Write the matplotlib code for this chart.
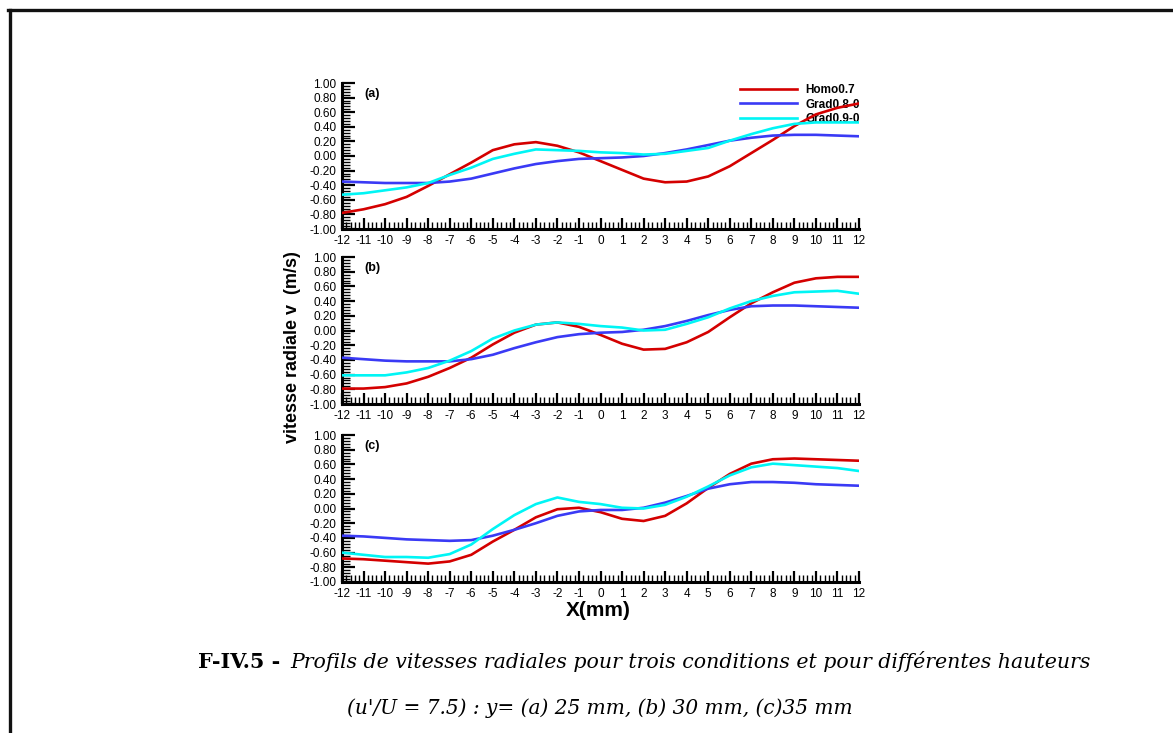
import matplotlib
matplotlib.use("Agg")
from matplotlib import pyplot as plt
from matplotlib.lines import Line2D
from matplotlib.ticker import MultipleLocator, FuncFormatter
import numpy as np

# x positions (mm)
x_mm = list(range(-12, 13))

# panel (a) y = 25 mm
homo_a = [-0.78, -0.73, -0.66, -0.56, -0.41, -0.25, -0.09, 0.08, 0.16, 0.19, 0.14, 0.05, -0.07,
          -0.19, -0.31, -0.36, -0.35, -0.28, -0.14, 0.04, 0.22, 0.41, 0.57, 0.66, 0.72]
grad8_a = [-0.35, -0.36, -0.37, -0.37, -0.37, -0.35, -0.31, -0.24, -0.17, -0.11, -0.07, -0.04, -0.03,
           -0.02, 0.00, 0.04, 0.09, 0.15, 0.21, 0.25, 0.28, 0.29, 0.29, 0.28, 0.27]
grad9_a = [-0.53, -0.51, -0.47, -0.43, -0.37, -0.26, -0.16, -0.04, 0.03, 0.09, 0.08, 0.07, 0.05,
           0.04, 0.02, 0.03, 0.07, 0.11, 0.21, 0.30, 0.38, 0.44, 0.46, 0.46, 0.46]

# panel (b) y = 30 mm
homo_b = [-0.79, -0.79, -0.77, -0.72, -0.63, -0.51, -0.37, -0.19, -0.03, 0.08, 0.11, 0.05, -0.06,
          -0.18, -0.26, -0.25, -0.16, -0.02, 0.18, 0.37, 0.52, 0.65, 0.71, 0.73, 0.73]
grad8_b = [-0.37, -0.39, -0.41, -0.42, -0.42, -0.42, -0.39, -0.33, -0.24, -0.16, -0.09, -0.05, -0.03,
           -0.02, 0.01, 0.06, 0.13, 0.21, 0.28, 0.33, 0.34, 0.34, 0.33, 0.32, 0.31]
grad9_b = [-0.61, -0.61, -0.61, -0.57, -0.51, -0.41, -0.28, -0.11, 0.00, 0.08, 0.11, 0.09, 0.06,
           0.04, 0.00, 0.01, 0.09, 0.18, 0.30, 0.40, 0.47, 0.52, 0.53, 0.54, 0.50]

# panel (c) y = 35 mm
homo_c = [-0.68, -0.69, -0.71, -0.73, -0.75, -0.72, -0.63, -0.45, -0.29, -0.12, -0.01, 0.01, -0.05,
          -0.14, -0.17, -0.10, 0.07, 0.28, 0.47, 0.61, 0.67, 0.68, 0.67, 0.66, 0.65]
grad8_c = [-0.37, -0.38, -0.40, -0.42, -0.43, -0.44, -0.43, -0.37, -0.29, -0.20, -0.10, -0.04, -0.02,
           -0.02, 0.01, 0.08, 0.17, 0.27, 0.33, 0.36, 0.36, 0.35, 0.33, 0.32, 0.31]
grad9_c = [-0.60, -0.63, -0.66, -0.66, -0.67, -0.62, -0.49, -0.28, -0.09, 0.06, 0.15, 0.09, 0.06,
           0.01, 0.00, 0.05, 0.16, 0.30, 0.45, 0.56, 0.61, 0.59, 0.57, 0.55, 0.51]

series_names = ["Homo0.7", "Grad0.8-0", "Grad0.9-0"]
series_colors = ["#d40000", "#3a3af5", "#00f5f5"]
panel_tags = ["(a)", "(b)", "(c)"]
panels = [
    (homo_a, grad8_a, grad9_a),
    (homo_b, grad8_b, grad9_b),
    (homo_c, grad8_c, grad9_c),
]

y_ticks = np.round(np.arange(-1.0, 1.001, 0.2), 2)

plt.rcParams["font.family"] = ["Liberation Sans", "DejaVu Sans"]
plt.rcParams["axes.unicode_minus"] = False

fig = plt.figure(figsize=(11.73, 7.33), dpi=100)

W, H = 1173.0, 733.0
left, right = 342 / W, 859 / W
tops = [83, 257, 435]
bottoms = [229, 404, 582]

for i, curves in enumerate(panels):
    ax = fig.add_axes([left, 1 - bottoms[i] / H, right - left, (bottoms[i] - tops[i]) / H])
    for vals, name, col in zip(curves, series_names, series_colors):
        ax.plot(x_mm, vals, color=col, lw=1.9, label=name, zorder=3)
    ax.set_xlim(-12, 12)
    ax.set_ylim(-1, 1)
    for s in ["top", "right"]:
        ax.spines[s].set_visible(False)
    for s in ["left", "bottom"]:
        ax.spines[s].set_linewidth(2.2)
    ax.xaxis.set_major_locator(MultipleLocator(1))
    ax.xaxis.set_minor_locator(MultipleLocator(0.2))
    ax.set_yticks(y_ticks)
    ax.yaxis.set_minor_locator(MultipleLocator(0.04))
    ax.yaxis.set_major_formatter(FuncFormatter(lambda v, p: f"{round(v, 2) + 0.0:.2f}"))
    ax.tick_params(which="major", direction="in", length=8, width=1.6, labelsize=8.5, pad=4)
    ax.tick_params(which="minor", direction="in", length=5, width=1.0)
    ax.tick_params(axis="y", which="major", length=9)
    ax.tick_params(axis="y", which="minor", length=6)
    ax.text(0.043, 0.925, panel_tags[i], transform=ax.transAxes, fontsize=9,
            fontweight="bold", va="center", ha="left")
    if i == 0:
        ax.legend(loc="upper left", bbox_to_anchor=(0.77, 0.993), frameon=False,
                  prop={"weight": "bold", "size": 8.5}, handlelength=4.8,
                  handletextpad=0.7, labelspacing=0.22, borderpad=0, borderaxespad=0)
        ax.get_legend().set_zorder(1)

fig.text(0.249, 0.527, "vitesse radiale v  (m/s)", rotation=90, fontsize=13,
         fontweight="bold", ha="center", va="center")
fig.text(598 / W, 1 - 611 / H, "X(mm)", fontsize=15, fontweight="bold",
         ha="center", va="center")

# caption, each piece sized to the width it takes in the page
serif = ["DejaVu Serif"]
cap_bold = fig.text(198 / W, 1 - 662 / H, "F-IV.5 -", family=serif, fontweight="bold",
                    fontsize=14, ha="left", va="center")
cap_1 = fig.text(290 / W, 1 - 662 / H,
                 "Profils de vitesses radiales pour trois conditions et pour différentes hauteurs",
                 family=serif, style="italic", fontsize=14, ha="left", va="center")
cap_2 = fig.text(600 / W, 1 - 708 / H, "(u'/U = 7.5) : y= (a) 25 mm, (b) 30 mm, (c)35 mm",
                 family=serif, style="italic", fontsize=14, ha="center", va="center")
fig.canvas.draw()
renderer = fig.canvas.get_renderer()
for t, target in [(cap_bold, 82), (cap_1, 805), (cap_2, 510)]:
    w = t.get_window_extent(renderer).width
    t.set_fontsize(t.get_fontsize() * target / w)

# page frame
fig.add_artist(Line2D([9.5 / W, 9.5 / W], [0, 1 - 9.5 / H], transform=fig.transFigure,
                      color="#111111", lw=2.4))
fig.add_artist(Line2D([8 / W, 1], [1 - 9.5 / H, 1 - 9.5 / H], transform=fig.transFigure,
                      color="#111111", lw=2.4))

fig.savefig("out.png", dpi=100)
